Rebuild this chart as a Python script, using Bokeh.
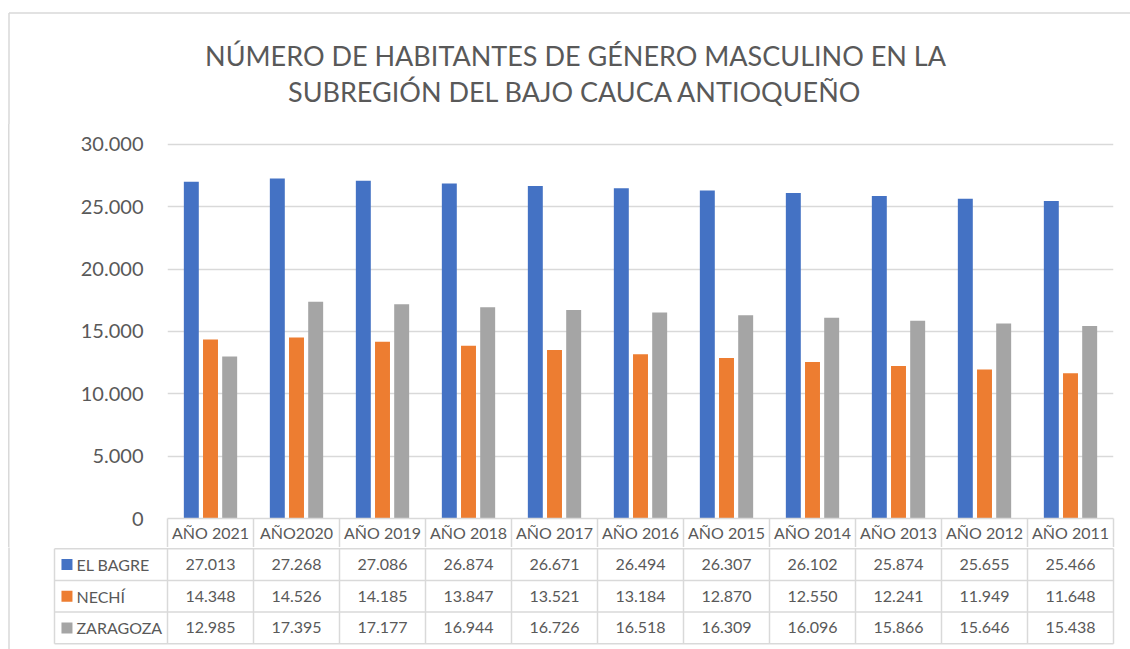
from bokeh.plotting import figure
from bokeh.models import Range1d, FixedTicker, LinearAxis, Grid
from bokeh.embed import file_html
from bokeh.resources import INLINE
from bokeh.core.properties import value

# ---------------- data ----------------
title_lines = ["NÚMERO DE HABITANTES DE GÉNERO MASCULINO EN LA",
               "SUBREGIÓN DEL BAJO CAUCA ANTIOQUEÑO"]
years = ["AÑO 2021", "AÑO2020", "AÑO 2019", "AÑO 2018", "AÑO 2017", "AÑO 2016",
         "AÑO 2015", "AÑO 2014", "AÑO 2013", "AÑO 2012", "AÑO 2011"]
series_names = ["EL BAGRE", "NECHÍ", "ZARAGOZA"]
el_bagre = [27013, 27268, 27086, 26874, 26671, 26494, 26307, 26102, 25874, 25655, 25466]
nechi = [14348, 14526, 14185, 13847, 13521, 13184, 12870, 12550, 12241, 11949, 11648]
zaragoza = [12985, 17395, 17177, 16944, 16726, 16518, 16309, 16096, 15866, 15646, 15438]
y_ticks = [0, 5000, 10000, 15000, 20000, 25000, 30000]
y_tick_labels = ["0", "5.000", "10.000", "15.000", "20.000", "25.000", "30.000"]

colors = ["#4472C4", "#ED7D31", "#A5A5A5"]
series = [el_bagre, nechi, zaragoza]
TEXT = "#595959"
LINE = "#D9D9D9"
FONT_NAME = "Lato"
FONT = value(FONT_NAME)

n = len(years)
centers = [i + 0.5 for i in range(n)]
bounds = [float(i) for i in range(n + 1)]


def fmt(v):
    return f"{v:,}".replace(",", ".")


W = 1130

# ---------------- title figure (page y 0..124) ----------------
t = figure(width=W, height=124, x_range=Range1d(0, W), y_range=Range1d(124, 0),
           output_backend="svg", toolbar_location=None, min_border=0,
           min_border_left=0, min_border_right=0, min_border_top=0,
           min_border_bottom=0, x_axis_location=None, y_axis_location=None)
t.grid.visible = False
t.outline_line_color = None
t.text(x=[575, 575], y=[55, 91], text=title_lines, text_align="center",
       text_baseline="middle", text_font=FONT, text_font_size="27px",
       text_color=TEXT)
t.segment(x0=[8.5], y0=[124], x1=[8.5], y1=[12.5], line_color=LINE, line_width=1.5)
t.segment(x0=[8.5], y0=[12.5], x1=[W], y1=[12.5], line_color=LINE, line_width=1.5)

# ---------------- chart figure (page y 124..547) ----------------
p = figure(width=W, height=423, x_range=Range1d(0, n), y_range=Range1d(0, 30320),
           output_backend="svg", toolbar_location=None,
           min_border_left=167, min_border_right=17, min_border_top=16,
           min_border_bottom=29, x_axis_location=None, y_axis_location=None,
           border_fill_color=None,
           styles={"background-color": "white",
                   "background-image": "linear-gradient(#D9D9D9, #D9D9D9)",
                   "background-size": "1.5px 100%",
                   "background-position": "8px 0px",
                   "background-repeat": "no-repeat"})
p.outline_line_color = None
p.grid.visible = False   # hide the default grids (no vertical gridlines)

yaxis = LinearAxis(ticker=FixedTicker(ticks=y_ticks),
                   major_label_overrides=dict(zip(y_ticks, y_tick_labels)),
                   axis_line_color=None, major_tick_line_color=None,
                   major_tick_in=0, major_tick_out=0,
                   minor_tick_line_color=None, minor_tick_in=0, minor_tick_out=0,
                   major_label_standoff=24,
                   major_label_text_font=FONT_NAME, major_label_text_font_size="20px",
                   major_label_text_color=TEXT)
p.add_layout(yaxis, "left")
p.add_layout(Grid(dimension=1, ticker=yaxis.ticker, grid_line_color=LINE,
                  grid_line_width=1.5))

xaxis = LinearAxis(ticker=FixedTicker(ticks=centers, minor_ticks=bounds),
                   major_label_overrides=dict(zip(centers, years)),
                   axis_line_color=LINE, axis_line_width=1.5,
                   major_tick_line_color=None, major_tick_in=0, major_tick_out=0,
                   minor_tick_in=0, minor_tick_out=30, minor_tick_line_color=LINE,
                   minor_tick_line_width=1.5, major_label_standoff=-26,
                   major_label_text_font=FONT_NAME, major_label_text_font_size="16px",
                   major_label_text_color=TEXT)
p.add_layout(xaxis, "below")

offsets = [-0.223, 0.0, 0.223]
for vals, off, col in zip(series, offsets, colors):
    p.vbar(x=[c + off for c in centers], top=vals, bottom=0, width=0.174,
           fill_color=col, line_color=None)

# ---------------- table figure (page y 547..649) ----------------
x_left = -113 / 86          # left edge of the row-label column
x_border = (8.5 - 167) / 86  # outer chart border
tb = figure(width=W, height=102, x_range=Range1d(-160 / 86, 948 / 86),
            y_range=Range1d(3.04 - 102 / 31.67, 3.04), output_backend="svg",
            toolbar_location=None, min_border_left=7, min_border_right=15,
            min_border_top=0, min_border_bottom=0,
            x_axis_location=None, y_axis_location=None)
tb.grid.visible = False
tb.outline_line_color = None

rows = len(series)
tb.segment(x0=[x_border], x1=[x_border], y0=[-1], y1=[4], line_color=LINE,
           line_width=1.5)
tb.segment(x0=[x_left] * (rows + 1), x1=[n] * (rows + 1),
           y0=list(range(rows + 1)), y1=list(range(rows + 1)),
           line_color=LINE, line_width=1.5)
vx = [x_left] + bounds
tb.segment(x0=vx, x1=vx, y0=[0] * len(vx), y1=[rows] * len(vx),
           line_color=LINE, line_width=1.5)

row_y = [rows - 0.5 - r for r in range(rows)]
tb.scatter(x=[x_left + 0.145] * rows, y=row_y, marker="square", size=11,
           fill_color=colors, line_color=None)
tb.text(x=[x_left + 0.255] * rows, y=row_y, text=series_names,
        text_align="left", text_baseline="middle", text_font=FONT,
        text_font_size="16px", text_color=TEXT)

tx, ty, tt = [], [], []
for r, vals in enumerate(series):
    for i, v in enumerate(vals):
        tx.append(centers[i])
        ty.append(row_y[r])
        tt.append(fmt(v))
tb.text(x=tx, y=ty, text=tt, text_align="center", text_baseline="middle",
        text_font=FONT, text_font_size="16px", text_color=TEXT)

open("out.html", "w").write(file_html([t, p, tb], INLINE))
